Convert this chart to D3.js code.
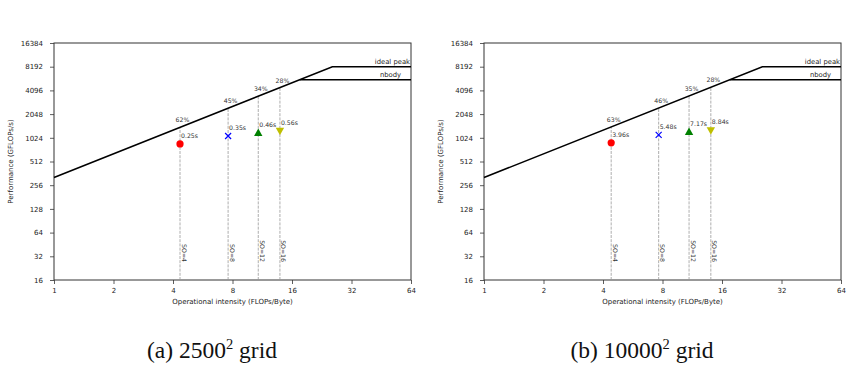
<!DOCTYPE html>
<html>
<head>
<meta charset="utf-8">
<script src="https://cdn.jsdelivr.net/npm/d3@7"></script>
<style>
  body { margin: 0; background: #fff; }
</style>
</head>
<body>
<div id="container"></div>
<script>
// datos
const soLabels = ["SO=4", "SO=8", "SO=12", "SO=16"];
const markerShapes = ["circle", "cross", "up", "down"];
const markerColors = ["#ff0000", "#0000ff", "#008000", "#bfbf00"];

const intensityA = [4.34, 7.6, 10.8, 13.9];
const perfA = [855, 1080, 1176, 1260];
const timeA = ["0.25s", "0.35s", "0.46s", "0.56s"];
const effA = ["62%", "45%", "34%", "28%"];

const intensityB = [4.4, 7.65, 10.9, 14.05];
const perfB = [885, 1115, 1215, 1280];
const timeB = ["3.96s", "5.48s", "7.17s", "8.84s"];
const effB = ["63%", "46%", "35%", "28%"];

const xTicks = [1, 2, 4, 8, 16, 32, 64];
const yTicks = [16, 32, 64, 128, 256, 512, 1024, 2048, 4096, 8192, 16384];

const bandwidth = 320,
      idealPeak = 8192,
      nbodyPeak = 5600;

const captions = [["(a) 2500", "2", " grid"], ["(b) 10000", "2", " grid"]];

const WIDTH = 853, HEIGHT = 368;
const SANS = "DejaVu Sans, sans-serif";
const svg = d3.select("#container").append("svg")
    .attr("width", WIDTH).attr("height", HEIGHT)
    .style("font-family", SANS);

const roof = (x) => Math.min(bandwidth * x, idealPeak);

const panel = (left, intensity, perf, times, effs, caption) => {
    const x = d3.scaleLog().base(2).domain([1, 64]).range([left, left + 357]);
    const y = d3.scaleLog().base(2).domain([16, 16384]).range([280, 43]);
    const g = svg.append("g");

    // ejes
    const xAxis = g.append("g").attr("transform", "translate(0,280)")
        .call(d3.axisBottom(x).tickValues(xTicks).tickFormat(d3.format("d")).tickSize(4).tickPadding(4));
    const yAxis = g.append("g").attr("transform", `translate(${left},0)`)
        .call(d3.axisLeft(y).tickValues(yTicks).tickFormat(d3.format("d")).tickSize(4).tickPadding(7));
    [xAxis, yAxis].forEach(a => {
        a.select(".domain").remove();
        a.selectAll("line").attr("stroke", "#333").attr("stroke-width", 0.8);
        a.selectAll("text").attr("font-size", 7).attr("fill", "#222")
            .style("font-family", SANS);
    });

    // marco
    g.append("rect").attr("x", left).attr("y", 43).attr("width", 357).attr("height", 237)
        .attr("fill", "none").attr("stroke", "#333").attr("stroke-width", 1);

    // líneas punteadas verticales
    intensity.forEach((v, i) => {
        g.append("line")
            .attr("x1", x(v)).attr("x2", x(v))
            .attr("y1", 280).attr("y2", y(roof(v)))
            .attr("stroke", "#999").attr("stroke-width", 0.8)
            .attr("stroke-dasharray", "3,1.2");
        g.append("text")
            .attr("transform", `translate(${x(v) + 1.5},262) rotate(90)`)
            .attr("text-anchor", "end")
            .attr("font-size", 6.2).attr("fill", "#333")
            .text(soLabels[i]);
        g.append("text")
            .attr("x", x(v) + 2.5).attr("y", y(roof(v)) - 5)
            .attr("text-anchor", "middle")
            .attr("font-size", 6.2).attr("fill", "#333")
            .text(effs[i]);
        g.append("text")
            .attr("x", x(v) + 1).attr("y", y(perf[i]) - 6)
            .attr("font-size", 6.2).attr("fill", "#333")
            .text(times[i]);
    });

    // roofline
    const ridge = idealPeak / bandwidth;
    g.append("path")
        .attr("d", d3.line()([[x(1), y(roof(1))], [x(ridge), y(idealPeak)], [x(64), y(idealPeak)]]))
        .attr("fill", "none").attr("stroke", "#000").attr("stroke-width", 1.6);
    g.append("line")
        .attr("x1", x(nbodyPeak / bandwidth)).attr("x2", x(64))
        .attr("y1", y(nbodyPeak)).attr("y2", y(nbodyPeak))
        .attr("stroke", "#000").attr("stroke-width", 1.6);
    g.append("text").attr("x", x(64) - 1).attr("y", y(idealPeak) - 2.5)
        .attr("text-anchor", "end").attr("font-size", 6.8).attr("fill", "#222").text("ideal peak");
    g.append("text").attr("x", x(64) - 10).attr("y", y(nbodyPeak) - 2.5)
        .attr("text-anchor", "end").attr("font-size", 6.8).attr("fill", "#222").text("nbody");

    // marcadores
    intensity.forEach((v, i) => {
        const cx = x(v), cy = y(perf[i]), c = markerColors[i];
        const s = markerShapes[i];
        if (s === "circle") {
            g.append("circle").attr("cx", cx).attr("cy", cy).attr("r", 3.6).attr("fill", c);
        } else if (s === "cross") {
            g.append("path").attr("d", `M${cx - 3},${cy - 3}L${cx + 3},${cy + 3}M${cx - 3},${cy + 3}L${cx + 3},${cy - 3}`)
                .attr("stroke", c).attr("stroke-width", 1.2);
        } else if (s === "up") {
            g.append("path").attr("d", `M${cx},${cy - 4.5}L${cx + 4.2},${cy + 3}L${cx - 4.2},${cy + 3}Z`).attr("fill", c);
        } else {
            g.append("path").attr("d", `M${cx},${cy + 4.5}L${cx + 4.2},${cy - 3}L${cx - 4.2},${cy - 3}Z`).attr("fill", c);
        }
    });

    // títulos de ejes
    g.append("text").attr("x", left + 178.5).attr("y", 304)
        .attr("text-anchor", "middle").attr("font-size", 7).attr("fill", "#222")
        .text("Operational intensity (FLOPs/Byte)");
    g.append("text").attr("transform", `translate(${left - 41},161.5) rotate(-90)`)
        .attr("text-anchor", "middle").attr("font-size", 7).attr("fill", "#222")
        .text("Performance (GFLOPs/s)");

    // leyenda de la subfigura
    const cap = g.append("text").attr("x", left + 158).attr("y", 358)
        .attr("text-anchor", "middle").attr("font-size", 23.5)
        .style("font-family", "'Liberation Serif', serif").attr("fill", "#111");
    cap.append("tspan").text(caption[0]);
    cap.append("tspan").attr("dy", -9).attr("font-size", 14.5).text(caption[1]);
    cap.append("tspan").attr("dy", 9).text(caption[2]);
};

panel(54, intensityA, perfA, timeA, effA, captions[0]);
panel(484, intensityB, perfB, timeB, effB, captions[1]);
</script>
</body>
</html>
